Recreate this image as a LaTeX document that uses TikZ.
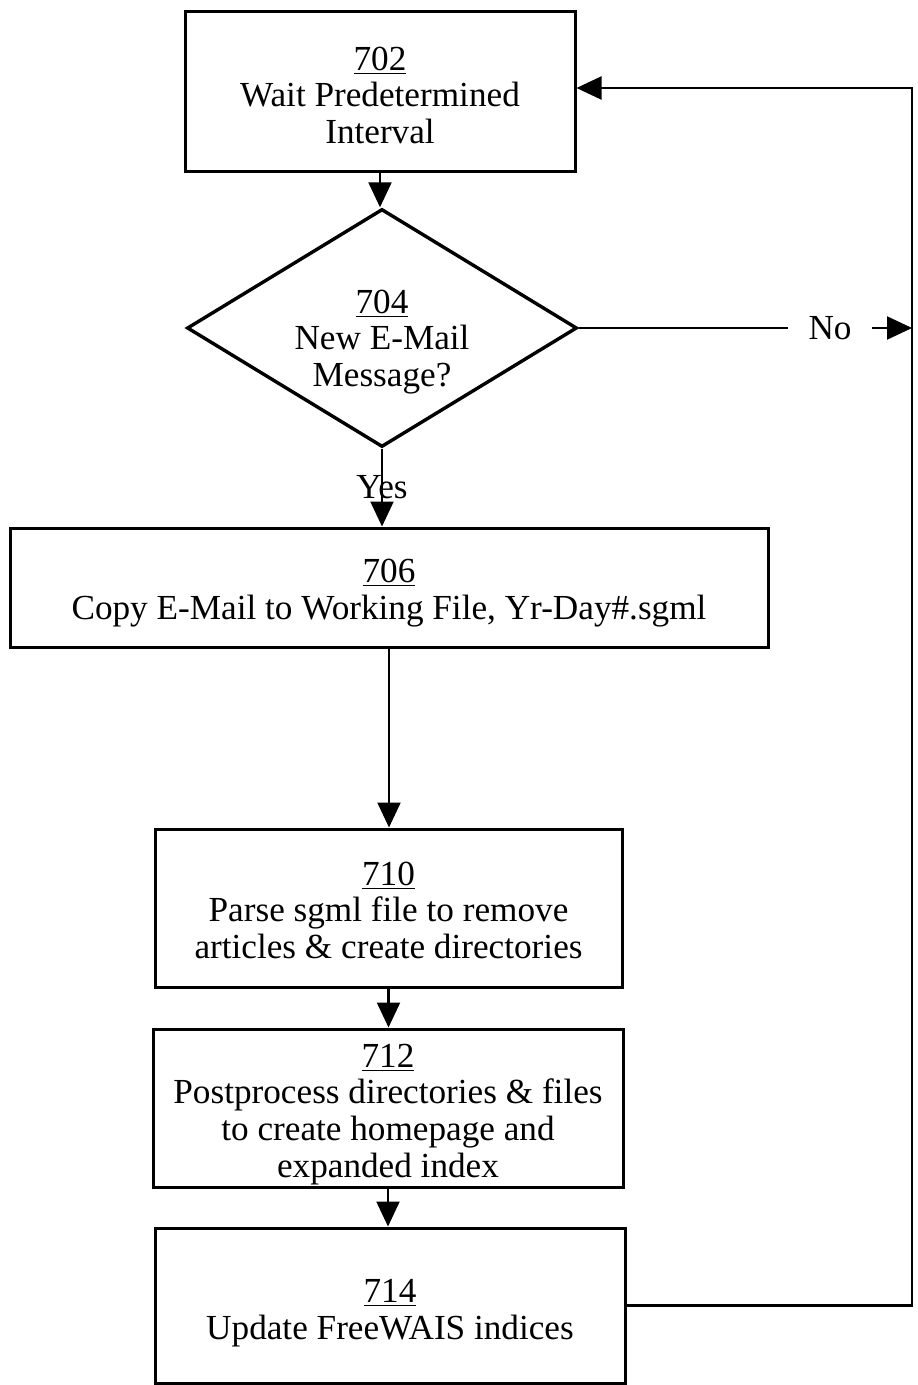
\documentclass[tikz,border=0pt]{standalone}
\usepackage{fontspec}
\setmainfont{Liberation Serif}
\usetikzlibrary{shapes.geometric}
\usetikzlibrary{arrows.meta}

\begin{document}
\begin{tikzpicture}[x=0.5pt, y=-0.5pt,
	txt/.style = {align=center, inner sep=0pt, font=\fontsize{17.6}{18.3}\selectfont},
	box/.style = {txt, draw, black, line width=1.5pt},
	decision/.style = {diamond, draw, black, line width=1.7pt, inner sep=0pt},
	conn/.style = {black, line width=1.1pt, >={Triangle[length=12.5pt, width=11.5pt]}}]
		
		\useasboundingbox (0,0) rectangle (917,1385);
		%%%%%%%%%%%%%%%%%%% Steps
		\node[box, minimum width=195pt, minimum height=80pt] (b702) at (380,92) {\rule{0pt}{15pt}\underline{702}\\Wait Predetermined\\Interval};
		\node[decision, minimum width=195pt, minimum height=119pt] (d704) at (382,328) {};
		\node[txt] (t704) at (382,342) {\underline{704}\\New E-Mail\\Message?};
		\node[box, minimum width=379pt, minimum height=59.5pt] (b706) at (389,587.5) {\rule{0pt}{17pt}\underline{706}\\Copy E-Mail to Working File, Yr-Day\#.sgml};
		\node[box, minimum width=233.5pt, minimum height=79pt] (b710) at (388.5,908) {\rule{0pt}{14pt}\underline{710}\\Parse sgml file to remove\\articles \& create directories};
		\node[box, minimum width=235pt, minimum height=79pt] (b712) at (388,1108) {\rule{0pt}{18pt}\underline{712}\\Postprocess directories \& files\\to create homepage and\\expanded index};
		\node[box, minimum width=235pt, minimum height=77.5pt] (b714) at (390,1305.5) {\rule{0pt}{19pt}\underline{714}\\Update FreeWAIS indices};
		\coordinate (loop) at (912,88);
		%%%%%%%%%%%%%%%%%%% Flow down
		\draw [conn] [->] (b702.south) -- (b702.south |- d704.north); % Vertical line
		\draw [conn] [->] (d704.south) -- node[txt, pos=0.5] (yes) {Yes} (d704.south |- b706.north); % Vertical line
		\draw [conn] [->] (b706.south) -- (b706.south |- b710.north); % Vertical line
		\draw [conn] [->] (b710.south) -- (b710.south |- b712.north); % Vertical line
		\draw [conn] [->] (b712.south) -- (b712.south |- b714.north); % Vertical line
		%%%%%%%%%%%%%%%%%%% No branch and return
		\node[txt, inner xsep=10pt] (no) at (830,328) {No};
		\draw [conn] (d704.east) -- (no.west);
		\draw [conn] [->] (no.east) -- (no.east -| loop);
		\draw [conn] [->] (b714.east) -| (loop) -- (loop -| b702.east);
		
\end{tikzpicture}
\end{document}
